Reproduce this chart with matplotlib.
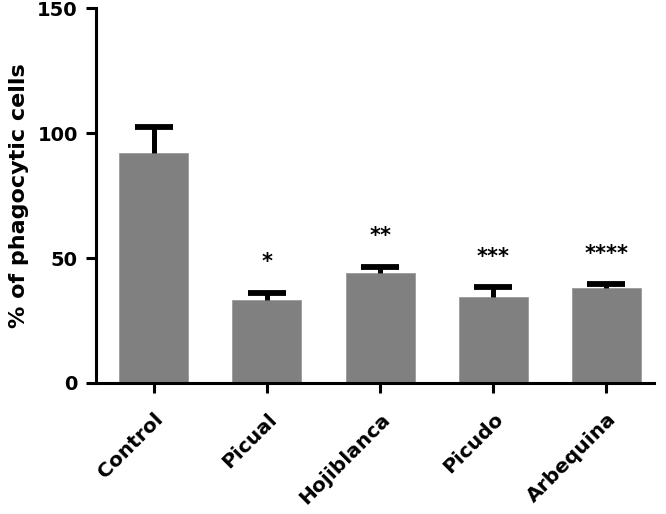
import numpy as np
from matplotlib import pyplot as plt

# data
groups = ["Control", "Picual", "Hojiblanca", "Picudo", "Arbequina"]
means = [92.0, 33.2, 44.1, 34.5, 38.1]
errors = [10.5, 2.9, 2.4, 3.8, 1.4]
stars = ["", "*", "**", "***", "****"]

plt.rcParams['font.family'] = ['DejaVu Sans']

fig = plt.figure(figsize=(6.66, 5.14), dpi=100)
ax = fig.add_axes([0.144, 0.255, 0.838, 0.729])

x = np.arange(len(groups))
tops = np.array(means) + np.array(errors)
ax.bar(x, means, width=0.61, color='#808080', edgecolor='#9a9a9a', linewidth=0.6, zorder=2)
# upper-only error bars: stem plus a single cap
ax.vlines(x, means, tops, color='black', linewidth=3.6, zorder=3)
ax.plot(x, tops, linestyle='none', marker='_', markersize=27, markeredgewidth=4.2,
        color='black', zorder=3)

for xi, t, s in zip(x, tops, stars):
    if s:
        ax.annotate(s, (xi, t), xytext=(0, 22), textcoords='offset points',
                    ha='center', va='center', fontsize=15, fontweight='bold')

ax.set_xlim(-0.51, 4.42)
ax.set_ylim(0, 150)
ax.set_yticks([0, 50, 100, 150])
ax.set_xticks(x)
ax.set_xticklabels(groups, rotation=45, ha='right', rotation_mode='anchor',
                   fontsize=14.5, fontweight='bold')
for lbl in ax.get_yticklabels():
    lbl.set_fontsize(14)
    lbl.set_fontweight('bold')
ax.set_ylabel("% of phagocytic cells", fontsize=16, fontweight='bold', labelpad=6)

for side in ['top', 'right']:
    ax.spines[side].set_visible(False)
for side in ['left', 'bottom']:
    ax.spines[side].set_linewidth(2.2)
ax.tick_params(axis='both', width=2.2, length=7, pad=6)
ax.tick_params(axis='x', pad=12)

fig.savefig("out.png", dpi=100)
